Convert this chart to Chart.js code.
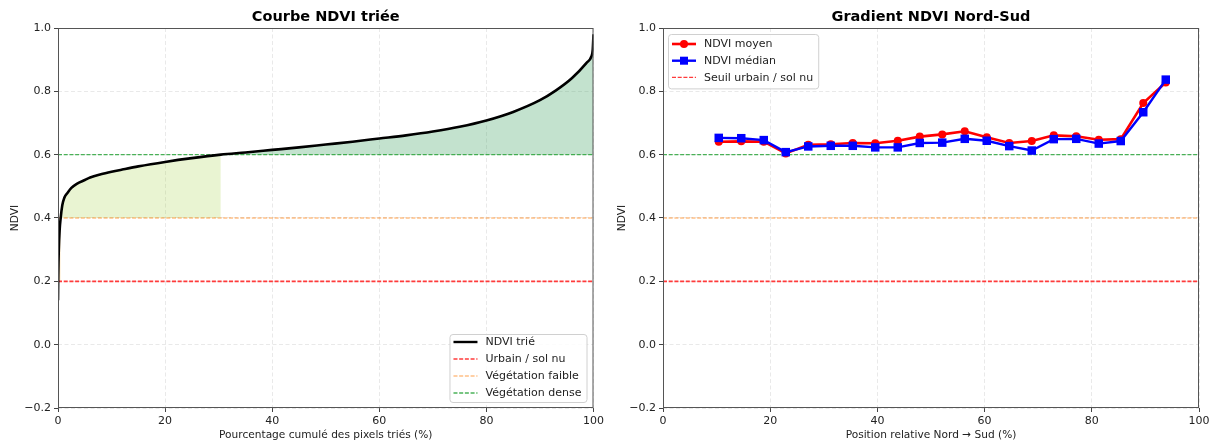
<!DOCTYPE html>
<html>
<head>
<meta charset="utf-8">
<script src="https://cdn.jsdelivr.net/npm/chart.js@4.4.1/dist/chart.umd.min.js"></script>
<style>
  html, body { margin: 0; padding: 0; background: #fff; }
  .wrap { display: flex; width: 1214px; height: 443px; }
  .cell { width: 607px; height: 443px; }
</style>
</head>
<body>
<div class="wrap">
  <div class="cell"><canvas id="sorted" width="607" height="443"></canvas></div>
  <div class="cell"><canvas id="gradient" width="607" height="443"></canvas></div>
</div>
<script>
// courbe NDVI triée
const sortedPct = [0, 0.05, 0.15, 0.3, 0.5, 0.8, 1.2, 1.8, 2.5, 3.5, 5, 6, 8, 10, 12, 15, 20, 25, 30.4,
  35, 40, 45, 50, 55, 60, 65, 70, 75, 80, 85, 90, 93, 96, 98.7, 99.6, 99.85, 100]
const sortedNdvi = [0.14, 0.22, 0.30, 0.36, 0.40, 0.44, 0.465, 0.48, 0.495, 0.508, 0.52, 0.528, 0.538, 0.546,
  0.553, 0.563, 0.577, 0.589, 0.600, 0.607, 0.615, 0.623, 0.632, 0.641, 0.651, 0.661, 0.673, 0.688,
  0.708, 0.735, 0.772, 0.803, 0.842, 0.89, 0.91, 0.93, 0.98]

// gradient nord-sud
const positions = [10.4, 14.6, 18.8, 22.9, 27.1, 31.3, 35.4, 39.6, 43.8, 47.9, 52.1, 56.3, 60.4, 64.6,
  68.8, 72.9, 77.1, 81.3, 85.4, 89.6, 93.8]
const ndviMean = [0.641, 0.642, 0.641, 0.604, 0.631, 0.633, 0.637, 0.636, 0.644, 0.657, 0.664, 0.674,
  0.655, 0.637, 0.643, 0.661, 0.658, 0.647, 0.649, 0.763, 0.828]
const ndviMedian = [0.653, 0.652, 0.646, 0.608, 0.626, 0.628, 0.628, 0.623, 0.623, 0.637, 0.638, 0.650,
  0.644, 0.627, 0.613, 0.649, 0.650, 0.635, 0.643, 0.734, 0.837]

const thresholds = [0.2, 0.4, 0.6]
const yTicks = [-0.2, 0.0, 0.2, 0.4, 0.6, 0.8, 1.0]
const xTicks = [0, 20, 40, 60, 80, 100]

const FONT = '"DejaVu Sans", sans-serif'
Chart.defaults.font.family = FONT
Chart.defaults.font.size = 11
Chart.defaults.color = '#222'

const RED = '#ff3b3b'
const ORANGE = 'rgba(255, 127, 14, 0.5)'
const GREEN = 'rgba(44, 165, 60, 0.85)'
const DASH = [4, 1.7]

const pts = (xs, ys) => xs.map((x, i) => ({ x, y: ys[i] }))
const hline = (y, color, width) => ({
  data: [{ x: xTicks[0], y }, { x: xTicks[xTicks.length - 1], y }],
  borderColor: color, borderWidth: width || 1.3, borderDash: DASH, pointRadius: 0, fill: false
})

// titre centré sur la zone de tracé
const axTitle = {
  id: 'axTitle',
  afterDraw(chart, args, opts) {
    const { ctx, chartArea: a } = chart
    ctx.save()
    ctx.font = 'bold 14.5px ' + FONT
    ctx.fillStyle = '#000'
    ctx.textAlign = 'center'
    ctx.textBaseline = 'alphabetic'
    ctx.fillText(opts.text, (a.left + a.right) / 2, 21)
    ctx.restore()
  }
}

// cadre (4 côtés) + légende encadrée, façon matplotlib
const frameLegend = {
  id: 'frameLegend',
  afterDraw(chart, args, opts) {
    const { ctx, chartArea: a } = chart
    ctx.save()
    ctx.strokeStyle = '#555'
    ctx.lineWidth = 1
    ctx.strokeRect(a.left + 0.5, a.top + 0.5, a.right - a.left - 1, a.bottom - a.top - 1)

    const items = opts.items
    ctx.font = '11px ' + FONT
    const rowH = opts.rowH
    const textW = Math.max(...items.map(it => ctx.measureText(it.label).width))
    const w = 36 + textW + 5
    const h = opts.padTop + rowH * (items.length - 1) + opts.padBottom
    const x = opts.corner === 'br' ? a.right - 7 - w : a.left + 5
    const y = opts.corner === 'br' ? a.bottom - 6 - h : a.top + 6

    ctx.beginPath()
    ctx.roundRect(x + 0.5, y + 0.5, w, h, 3)
    ctx.fillStyle = 'rgba(255,255,255,0.85)'
    ctx.fill()
    ctx.strokeStyle = '#d0d0d0'
    ctx.stroke()

    items.forEach((it, i) => {
      const cy = y + opts.padTop + rowH * i
      ctx.save()
      ctx.strokeStyle = it.color
      ctx.lineWidth = it.width
      ctx.setLineDash(it.dash || [])
      ctx.beginPath()
      ctx.moveTo(x + 4, cy)
      ctx.lineTo(x + 28, cy)
      ctx.stroke()
      ctx.setLineDash([])
      ctx.fillStyle = it.color
      if (it.marker === 'circle') {
        ctx.beginPath()
        ctx.arc(x + 16, cy, 4, 0, Math.PI * 2)
        ctx.fill()
      } else if (it.marker === 'rect') {
        ctx.fillRect(x + 16 - 4, cy - 4, 8, 8)
      }
      ctx.restore()
      ctx.fillStyle = '#222'
      ctx.textBaseline = 'middle'
      ctx.textAlign = 'left'
      ctx.fillText(it.label, x + 36, cy + 0.5)
    })
    ctx.restore()
  }
}

const yFmt = v => (v < 0 ? '\u2212' + Math.abs(v).toFixed(1) : v.toFixed(1))

function scales(leftWidth, xLabel) {
  const grid = {
    color: 'rgba(170,170,170,0.32)', lineWidth: 0.8,
    tickLength: 4, tickColor: '#444', tickWidth: 1, tickBorderDash: []
  }
  const border = { display: false, dash: [4, 2.5] }
  return {
    x: {
      type: 'linear', min: 0, max: 100,
      afterBuildTicks: s => { s.ticks = xTicks.map(value => ({ value })) },
      afterFit: s => { s.height = 35 },
      ticks: { padding: 3, maxRotation: 0, callback: v => String(v) },
      grid, border,
      title: { display: true, text: xLabel, font: { size: 10.6 }, padding: { top: 0, bottom: 1 } }
    },
    y: {
      min: -0.2, max: 1.0,
      afterBuildTicks: s => { s.ticks = yTicks.map(value => ({ value })) },
      afterFit: s => { s.width = leftWidth },
      ticks: { padding: 3, callback: yFmt },
      grid, border,
      title: { display: true, text: 'NDVI', font: { size: 10.6 }, padding: { top: 9, bottom: 0 } }
    }
  }
}

const common = {
  responsive: false,
  animation: false,
  events: [],
  devicePixelRatio: 1
}

// ---- graphique gauche : courbe triée ----
const curve = pts(sortedPct, sortedNdvi)
const faibleFill = curve.filter(p => p.y >= 0.4 && p.y <= 0.6)
const denseFill = curve.filter(p => p.y >= 0.6)
const urbainFill = curve.filter(p => p.y >= 0.2 && p.y < 0.4).concat(curve.filter(p => p.y >= 0.4).slice(0, 1))

new Chart(document.getElementById('sorted'), {
  type: 'line',
  data: {
    datasets: [
      { data: curve, borderColor: '#000', borderWidth: 2.6, pointRadius: 0, fill: false,
        cubicInterpolationMode: 'monotone', order: 0 },
      hline(thresholds[0], RED, 1.6),
      hline(thresholds[1], ORANGE),
      hline(thresholds[2], GREEN),
      { data: faibleFill, borderWidth: 0, pointRadius: 0, cubicInterpolationMode: 'monotone',
        fill: { value: thresholds[1] }, backgroundColor: 'rgba(154,205,50,0.22)', order: 5 },
      { data: denseFill, borderWidth: 0, pointRadius: 0, cubicInterpolationMode: 'monotone',
        fill: { value: thresholds[2] }, backgroundColor: 'rgba(40,150,80,0.28)', order: 5 },
      { data: urbainFill, borderWidth: 0, pointRadius: 0, cubicInterpolationMode: 'monotone',
        fill: { value: thresholds[0] }, backgroundColor: 'rgba(255,165,0,0.25)', order: 5 }
    ]
  },
  options: {
    ...common,
    layout: { padding: { left: 0, right: 12, top: 28, bottom: 0 } },
    scales: scales(58, 'Pourcentage cumulé des pixels triés (%)'),
    plugins: {
      legend: { display: false },
      tooltip: { enabled: false },
      axTitle: { text: 'Courbe NDVI triée' },
      frameLegend: {
        corner: 'br', rowH: 17, padTop: 8, padBottom: 9,
        items: [
          { label: 'NDVI trié', color: '#000', width: 2.4 },
          { label: 'Urbain / sol nu', color: RED, width: 1.3, dash: DASH },
          { label: 'Végétation faible', color: ORANGE, width: 1.3, dash: DASH },
          { label: 'Végétation dense', color: GREEN, width: 1.3, dash: DASH }
        ]
      }
    }
  },
  plugins: [axTitle, frameLegend]
})

// ---- graphique droit : gradient nord-sud ----
new Chart(document.getElementById('gradient'), {
  type: 'line',
  data: {
    datasets: [
      { data: pts(positions, ndviMedian), borderColor: '#0000ff', backgroundColor: '#0000ff',
        borderWidth: 2.4, pointStyle: 'rect', pointRadius: 6, pointBorderWidth: 0, order: 0 },
      { data: pts(positions, ndviMean), borderColor: '#ff0000', backgroundColor: '#ff0000',
        borderWidth: 2.6, pointStyle: 'circle', pointRadius: 4, pointBorderWidth: 0, order: 1 },
      hline(thresholds[0], RED, 1.6),
      hline(thresholds[1], ORANGE),
      hline(thresholds[2], GREEN)
    ]
  },
  options: {
    ...common,
    layout: { padding: { left: 0, right: 15, top: 28, bottom: 0 } },
    scales: scales(56, 'Position relative Nord \u2192 Sud (%)'),
    plugins: {
      legend: { display: false },
      tooltip: { enabled: false },
      axTitle: { text: 'Gradient NDVI Nord-Sud' },
      frameLegend: {
        corner: 'tl', rowH: 16.7, padTop: 10, padBottom: 11,
        items: [
          { label: 'NDVI moyen', color: '#ff0000', width: 2.6, marker: 'circle' },
          { label: 'NDVI médian', color: '#0000ff', width: 2.4, marker: 'rect' },
          { label: 'Seuil urbain / sol nu', color: RED, width: 1.3, dash: DASH }
        ]
      }
    }
  },
  plugins: [axTitle, frameLegend]
})
</script>
</body>
</html>
